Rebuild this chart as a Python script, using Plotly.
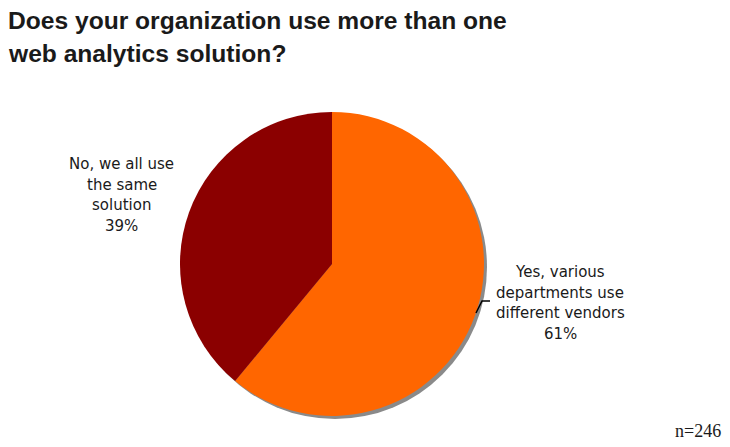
import plotly.graph_objects as go

title_lines = ["Does your organization use more than one", "web analytics solution?"]
labels = ["Yes, various departments use different vendors", "No, we all use the same solution"]
label_lines = [["Yes, various", "departments use", "different vendors"],
               ["No, we all use", "the same", "solution"]]
values = [61, 39]
colors = ["#FF6600", "#8B0000"]
note = "n=246"

# page is offset by the 8px body margin
OFF = 8
W, H = 730 - OFF, 447 - OFF
cx, cy, r = 332, 264, 152

def px(x):
    return (x - OFF) / W

def py(y):
    return 1 - (y - OFF) / H

fig = go.Figure()
fig.add_trace(go.Pie(
    labels=labels, values=values, sort=False, direction="clockwise", rotation=0,
    marker=dict(colors=colors, line=dict(width=0)),
    textinfo="none", hoverinfo="label+percent", showlegend=False,
    domain=dict(x=[px(cx - r), px(cx + r)], y=[py(cy + r), py(cy - r)]),
))

shapes = [
    dict(type="circle", xref="paper", yref="paper", layer="below",
         x0=px(cx - r + 3), x1=px(cx + r + 3), y0=py(cy + r + 3), y1=py(cy - r + 3),
         fillcolor="#8a8a8a", line=dict(width=0)),
    dict(type="path", xref="paper", yref="paper",
         path=f"M {px(476)} {py(313)} L {px(482)} {py(301)} L {px(490)} {py(301)}",
         line=dict(color="black", width=1.5)),
]

annotations = []
for i, t in enumerate(title_lines):
    annotations.append(dict(text=f"<b>{t}</b>", x=px(6), y=py(20.5 + i * 33), xref="paper", yref="paper",
                            xanchor="left", yanchor="middle", showarrow=False,
                            font=dict(family="Liberation Sans, Arial", size=24.6, color="#1a1a1a")))

total = sum(values)
label_pos = [(560, 272), (121.5, 164)]
for lines, v, (lx, ly) in zip(label_lines, values, label_pos):
    all_lines = lines + [f"{round(100 * v / total)}%"]
    for j, t in enumerate(all_lines):
        annotations.append(dict(text=t, x=px(lx), y=py(ly + j * 20.5), xref="paper", yref="paper",
                                xanchor="center", yanchor="middle", showarrow=False,
                                font=dict(family="DejaVu Sans, Verdana", size=15, color="#1a1a1a")))

annotations.append(dict(text=note, x=px(698), y=py(431), xref="paper", yref="paper",
                        xanchor="center", yanchor="middle", showarrow=False,
                        font=dict(family="Liberation Serif, Times New Roman", size=18, color="#1a1a1a")))

fig.update_layout(width=W, height=H, margin=dict(l=0, r=0, t=0, b=0),
                  paper_bgcolor="white", plot_bgcolor="white",
                  shapes=shapes, annotations=annotations)
fig.write_html("out.html")
